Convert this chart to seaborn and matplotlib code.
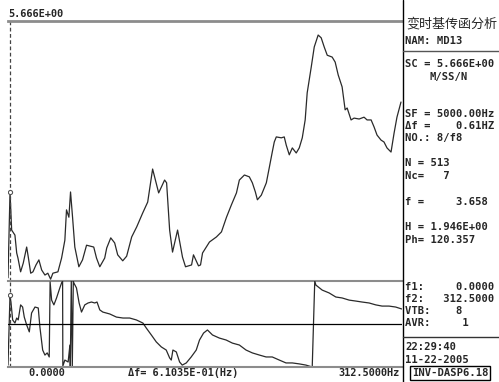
# transfer function plot, amplitude on top and phase below, with the info panel on the right

import matplotlib.pyplot as plt
import seaborn as sns
import pandas as pd

# amplitude curve (Hz, amplitude)
amp_freq = [0.0, 1.6, 2.9, 5.5, 6.9, 7.9, 10.0, 12.1, 14.8, 16.1, 18.0, 19.8, 22.2, 24.5,
            26.7, 29.3, 31.6, 33.8, 35.6, 39.6, 42.5, 45.1, 46.4, 48.3, 49.6, 51.2, 53.0,
            56.2, 59.1, 62.3, 68.0, 70.2, 72.8, 76.7, 78.3, 81.5, 84.6, 87.0, 91.0, 94.1,
            98.1, 102.1, 106.8, 110.8, 114.7, 119.5, 124.2, 125.8, 128.2, 130.5, 134.5,
            138.4, 140.8, 145.6, 147.1, 151.1, 152.7, 154.3, 159.8, 165.3, 169.3, 173.3,
            177.2, 181.2, 183.5, 187.5, 191.4, 193.8, 196.2, 197.8, 200.9, 204.9, 207.3,
            209.6, 211.2, 212.8, 216.8, 219.1, 220.7, 223.1, 225.5, 228.6, 231.0, 233.4,
            235.7, 237.3, 240.5, 242.9, 246.0, 248.4, 250.8, 253.2, 257.1, 259.5, 261.9,
            265.0, 267.4, 269.0, 272.1, 274.5, 278.5, 282.4, 284.8, 288.0, 290.3, 292.7,
            295.9, 298.2, 300.6, 303.8, 306.2, 308.5, 311.7]
amp_val = [0.07, 1.94, 1.11, 1.00, 0.61, 0.50, 0.20, 0.39, 0.74, 0.52, 0.17, 0.20, 0.35, 0.46,
           0.24, 0.13, 0.17, 0.04, 0.17, 0.20, 0.50, 0.89, 1.55, 1.39, 1.94, 1.39, 0.74,
           0.31, 0.46, 0.78, 0.74, 0.50, 0.31, 0.50, 0.72, 0.94, 0.83, 0.57, 0.44, 0.54,
           0.96, 1.18, 1.48, 1.72, 2.44, 1.92, 2.20, 2.14, 1.11, 0.63, 1.11,
           0.52, 0.31, 0.35, 0.57, 0.33, 0.35, 0.61, 0.85, 0.96, 1.07, 1.39,
           1.66, 1.92, 2.20, 2.31, 2.27, 2.14, 1.94, 1.77, 1.87, 2.14, 2.48,
           2.81, 3.03, 3.14, 3.12, 3.14, 2.96, 2.75, 2.90, 2.79, 2.90, 3.12,
           3.51, 4.10, 4.66, 5.10, 5.36, 5.30, 5.10, 4.92, 4.88, 4.77, 4.49,
           4.23, 3.73, 3.77, 3.51, 3.55, 3.53, 3.57, 3.51, 3.51, 3.36, 3.18,
           3.07, 3.03, 2.90, 2.81, 3.22, 3.57, 3.90]

# phase curve (Hz, degrees), jumps at +-180 are kept as they are on screen
ph_freq = [0.0, 1.6, 2.4, 3.7, 5.5, 6.9, 8.1, 10.0, 11.6, 12.9, 14.8, 16.9, 18.7, 21.4,
           24.0, 25.3, 27.5, 29.3, 31.1, 32.7, 33.4, 34.6, 36.4, 38.5, 41.1, 42.5, 43.3,
           43.5, 45.1, 47.7, 49.1, 49.4, 50.2, 51.0, 51.8, 52.2, 54.3, 56.4, 58.3, 60.9,
           63.5, 66.2, 68.8, 70.6, 72.8, 75.2, 80.7, 86.0, 91.2, 96.5, 101.8, 107.0,
           109.7, 113.7, 117.6, 121.6, 125.5, 128.2, 129.5, 130.8, 133.5, 136.1, 138.2,
           141.4, 145.3, 149.3, 151.9, 155.1, 158.2, 162.2, 167.7, 173.0, 178.0, 183.5,
           188.8, 193.8, 199.4, 204.7, 209.6, 215.2, 220.5, 225.5, 231.0, 236.3, 241.3,
           243.3, 244.2, 249.2, 254.7, 260.0, 265.0, 270.6, 275.9, 280.8, 286.4, 291.7,
           296.7, 302.2, 307.5, 312.2]
ph_val = [-172, 121, 88, 17, 4, 25, 17, 80, 71, 29, -4, -33, 46, 71,
          67, -13, -109, -130, -121, -138, 176, 100, 80, 109, 151, 172, 180,
          -176, -151, -159, -88, -180, 180, -180, 180, 172, 151, 88, 50, 80,
          88, 92, 88, 92, 59, 50, 42, 29, 25, 25, 17, 4,
          -17, -46, -75, -96, -109, -142, -151, -109, -117, -159, -172,
          -163, -138, -109, -67, -38, -25, -46, -59, -67, -80, -88,
          -109, -121, -130, -138, -138, -151, -163, -163, -167, -172, -180,
          180, 163, 142, 130, 113, 109, 100, 96, 92, 88, 80,
          75, 75, 71, 63]

cursor_freq = 1.6
cursor_amp = 1.94
cursor_ph = 121

amp_max = 5.666
f_max = 312.5

# info panel lines: (text, y pixel from top, x pixel)
info_lines = [
    ('NAM: MD13', 41, 405),
    ('SC = 5.666E+00', 64, 405),
    ('M/SS/N', 77, 429),
    ('SF = 5000.00Hz', 114, 405),
    ('Δf =    0.61HZ', 126, 405),
    ('NO.: 8/f8', 138, 405),
    ('N = 513', 163, 405),
    ('Nc=   7', 176, 405),
    ('f =     3.658', 202, 405),
    ('H = 1.946E+00', 227, 405),
    ('Ph= 120.357', 240, 405),
    ('f1:     0.0000', 287, 405),
    ('f2:   312.5000', 299, 405),
    ('VTB:    8', 311, 405),
    ('AVR:     1', 323, 405),
    ('22:29:40', 347, 405),
    ('11-22-2005', 360, 405),
]

W, H = 499, 382


def fy(py):
    return 1 - py / H


def fx(px):
    return px / W


def main():
    sns.set_style('white')
    plt.rcParams['font.family'] = ['DejaVu Sans Mono', 'Noto Sans CJK SC']

    fig = plt.figure(figsize=(W / 100, H / 100), dpi=100)
    fig.patch.set_facecolor('white')

    left, right = 8, 402
    ax_amp = fig.add_axes([fx(left), fy(281), fx(right - left), 260 / H])
    ax_ph = fig.add_axes([fx(left), fy(367), fx(right - left), 86 / H])

    amp_df = pd.DataFrame({'f': amp_freq, 'a': amp_val})
    ph_df = pd.DataFrame({'f': ph_freq, 'p': ph_val})

    line_c = '#2a2a2a'
    sns.lineplot(data=amp_df, x='f', y='a', ax=ax_amp, color=line_c, lw=0.9,
                 sort=False, estimator=None)
    sns.lineplot(data=ph_df, x='f', y='p', ax=ax_ph, color=line_c, lw=0.9,
                 sort=False, estimator=None)

    ax_amp.set_xlim(0, f_max)
    ax_amp.set_ylim(0, amp_max)
    ax_ph.set_xlim(0, f_max)
    ax_ph.set_ylim(-180, 180)

    # cursor
    ax_amp.axvline(cursor_freq, color='#444444', lw=0.9, ls=(0, (3, 2)))
    ax_ph.axvline(cursor_freq, color='#444444', lw=0.9, ls=(0, (3, 2)))
    ax_amp.plot([cursor_freq], [cursor_amp], 'o', ms=3, mfc='white', mec='#555555', mew=0.8)
    ax_ph.plot([cursor_freq], [cursor_ph], 'o', ms=3, mfc='white', mec='#555555', mew=0.8)
    ax_ph.axhline(0, color='black', lw=0.9)

    for ax in (ax_amp, ax_ph):
        ax.set_xticks([])
        ax.set_yticks([])
        ax.set_xlabel('')
        ax.set_ylabel('')
        ax.patch.set_alpha(0)
        for s in ('left', 'right'):
            ax.spines[s].set_visible(False)
    ax_amp.spines['top'].set_color('#8c8c8c')
    ax_amp.spines['top'].set_linewidth(2)
    ax_amp.spines['bottom'].set_color('#8c8c8c')
    ax_amp.spines['bottom'].set_linewidth(1.5)
    ax_ph.spines['top'].set_visible(False)
    ax_ph.spines['bottom'].set_color('#8c8c8c')
    ax_ph.spines['bottom'].set_linewidth(1.5)

    # divider and panel rules
    fig.add_artist(plt.Line2D([fx(402.5), fx(402.5)], [0, 1], color='black', lw=1))
    fig.add_artist(plt.Line2D([fx(403), 1], [fy(51), fy(51)], color='#555555', lw=1))
    fig.add_artist(plt.Line2D([fx(403), 1], [fy(337), fy(337)], color='#333333', lw=1))

    fs = 7.6
    fig.text(fx(8), fy(14), '5.666E+00', fontsize=7.4, fontweight='bold', va='center', ha='left')
    fig.text(fx(406), fy(24), '变时基传函分析', fontsize=9.4, va='center', ha='left',
             family=['Noto Sans CJK SC', 'DejaVu Sans'])
    for txt, py, px in info_lines:
        fig.text(fx(px), fy(py), txt, fontsize=fs, fontweight='bold', va='center', ha='left')
    fig.text(fx(450), fy(373), 'INV-DASP6.18', fontsize=fs, fontweight='bold', va='center',
             ha='center', bbox=dict(boxstyle='square,pad=0.15', fc='white', ec='black', lw=1))

    fig.text(fx(47), fy(373), '0.0000', fontsize=7.4, fontweight='bold', va='center', ha='center')
    fig.text(fx(183), fy(373), 'Δf= 6.1035E-01(Hz)', fontsize=7.4, fontweight='bold',
             va='center', ha='center')
    fig.text(fx(400), fy(373), '312.5000Hz', fontsize=7.4, fontweight='bold', va='center', ha='right')

    fig.savefig('out.png', dpi=100)


if __name__ == "__main__":
    main()
